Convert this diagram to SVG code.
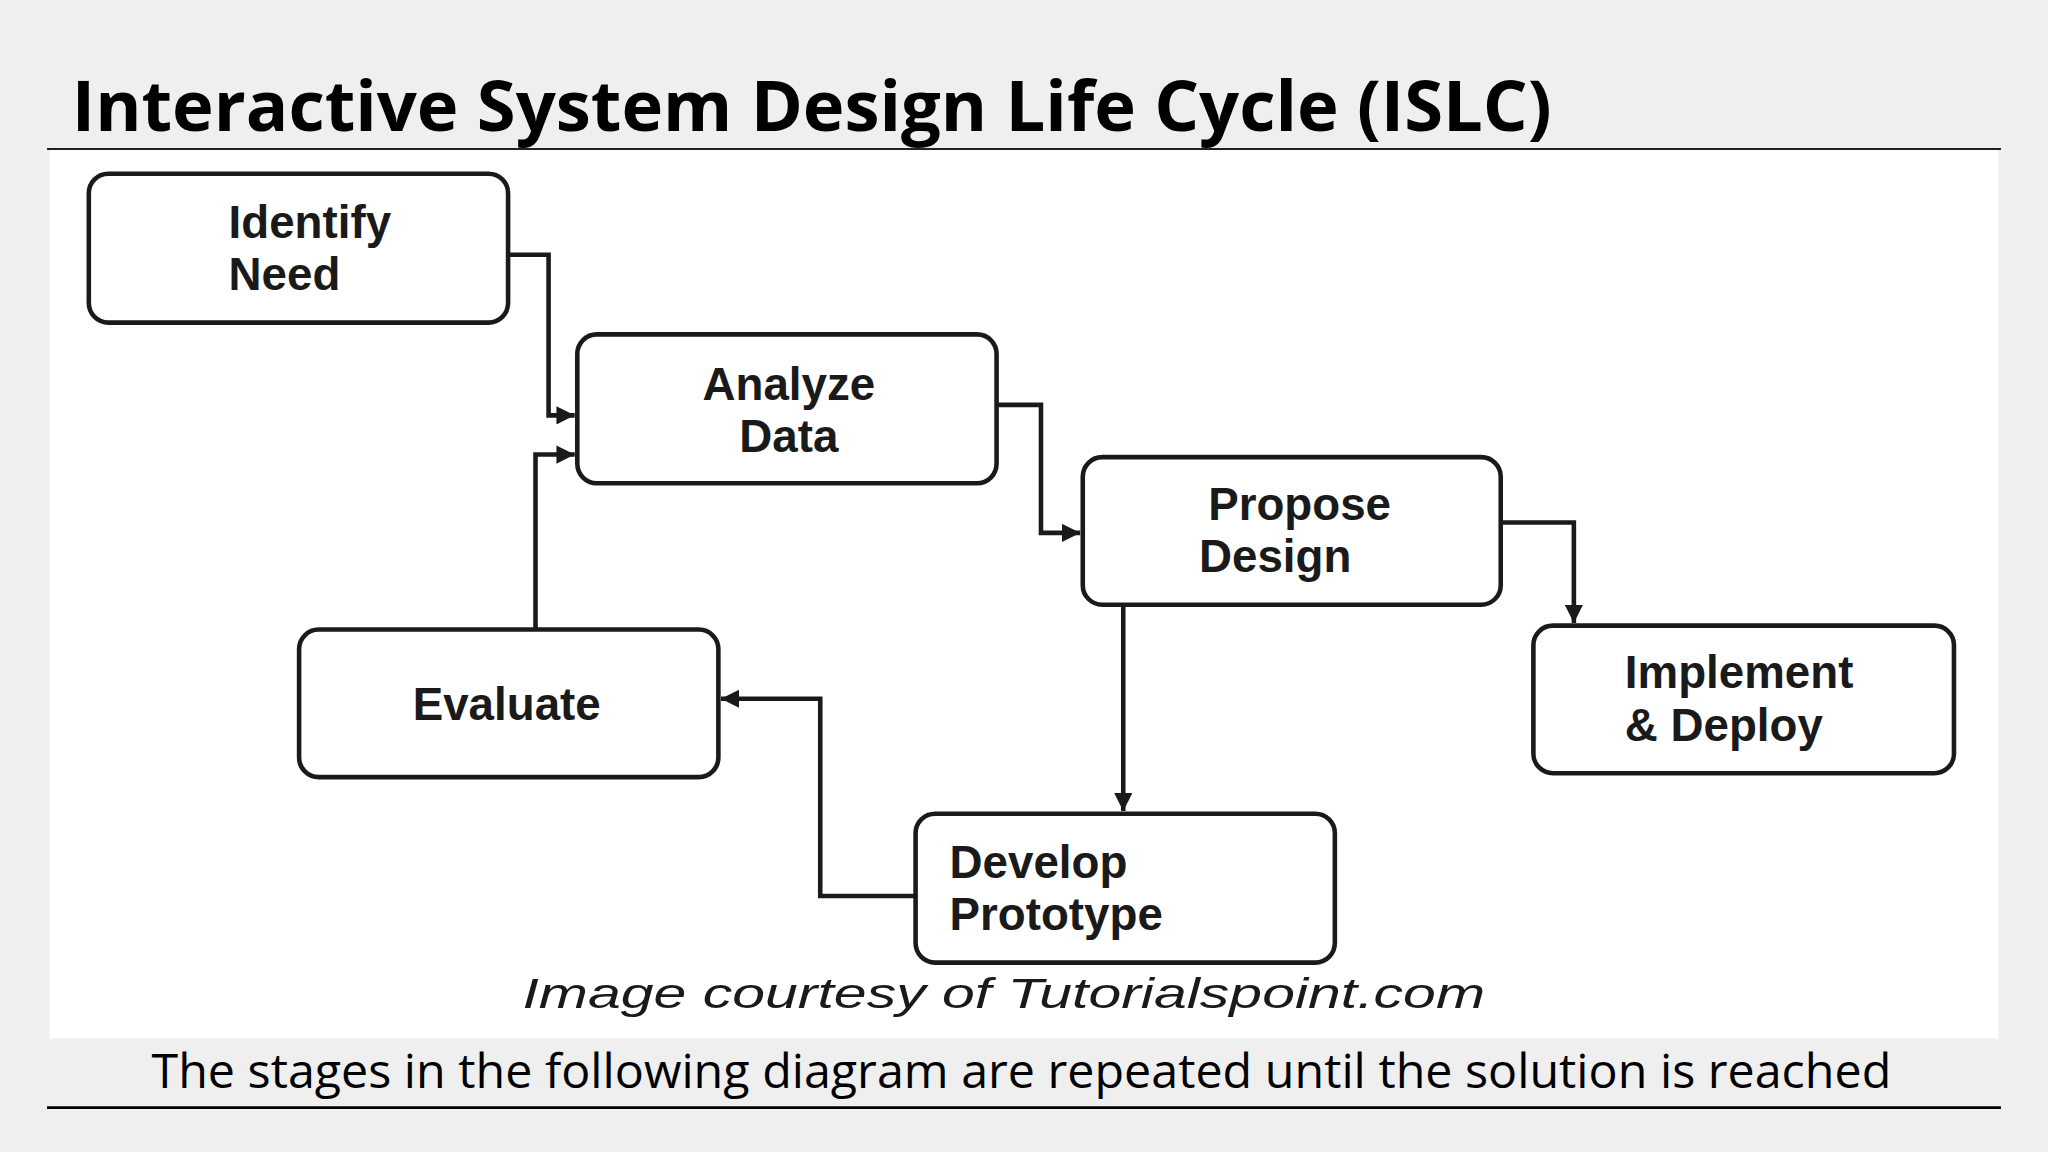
<svg xmlns="http://www.w3.org/2000/svg" width="2048" height="1152" viewBox="0 0 2048 1152">
<defs>
<style>
.box{fill:#fff;stroke:#1a1a1a;stroke-width:3.5}
.lbl{font-family:"Liberation Sans",Arial,sans-serif;font-weight:bold;font-size:35px;fill:#1a1a1a}
.con{fill:none;stroke:#1a1a1a;stroke-width:3.5}
</style>
<marker id="ah" viewBox="0 0 10 10" refX="10" refY="5" markerWidth="4" markerHeight="4" orient="auto" markerUnits="strokeWidth">
<path d="M0,0 L10,5 L0,10 z" fill="#1a1a1a"/>
</marker>
</defs>
<rect width="2048" height="1152" fill="#efefef"/>
<g transform="scale(1.30612)">
<rect x="38" y="115" width="1492" height="680" fill="#fff"/>
<text x="55" y="100" font-family="Open Sans,sans-serif" font-weight="bold" font-size="54" textLength="1133" lengthAdjust="spacingAndGlyphs" fill="#000">Interactive System Design Life Cycle (ISLC)</text>
<line x1="36" y1="114" x2="1532" y2="114" stroke="#222" stroke-width="1.5"/>
<g id="identify"><rect class="box" x="68" y="133" width="321" height="114" rx="15"/><text class="lbl" x="175" y="182">Identify</text><text class="lbl" x="175" y="222">Need</text></g>
<g id="analyze"><rect class="box" x="442" y="256" width="321" height="114" rx="15"/><text class="lbl" x="604" y="306" text-anchor="middle">Analyze</text><text class="lbl" x="604" y="346" text-anchor="middle">Data</text></g>
<g id="propose"><rect class="box" x="829" y="350" width="320" height="113" rx="15"/><text class="lbl" x="925" y="398">Propose</text><text class="lbl" x="918" y="438">Design</text></g>
<g id="implement"><rect class="box" x="1174" y="479" width="322" height="113" rx="15"/><text class="lbl" x="1244" y="527">Implement</text><text class="lbl" x="1244" y="567">&amp; Deploy</text></g>
<g id="evaluate"><rect class="box" x="229" y="482" width="321" height="113" rx="15"/><text class="lbl" x="316" y="551">Evaluate</text></g>
<g id="develop"><rect class="box" x="701" y="623" width="321" height="114" rx="15"/><text class="lbl" x="727" y="672">Develop</text><text class="lbl" x="727" y="712">Prototype</text></g>
<g id="connectors">
<path class="con" d="M389,195 H420 V318 H440" marker-end="url(#ah)"/>
<path class="con" d="M410,482 V348 H440" marker-end="url(#ah)"/>
<path class="con" d="M763,310 H797 V408 H827" marker-end="url(#ah)"/>
<path class="con" d="M1149,400 H1205 V477" marker-end="url(#ah)"/>
<path class="con" d="M860,463 V621" marker-end="url(#ah)"/>
<path class="con" d="M701,686 H628 V535 H552" marker-end="url(#ah)"/>
</g>
<text x="400" y="772" font-family="Liberation Sans,Arial,sans-serif" font-style="italic" font-size="32" textLength="737" lengthAdjust="spacingAndGlyphs" fill="#1a1a1a">Image courtesy of Tutorialspoint.com</text>
<text x="116" y="833" font-family="Open Sans,sans-serif" font-size="36" textLength="1332" lengthAdjust="spacingAndGlyphs" fill="#000">The stages in the following diagram are repeated until the solution is reached</text>
<line x1="36" y1="848" x2="1532" y2="848" stroke="#000" stroke-width="2"/>
</g>
</svg>
